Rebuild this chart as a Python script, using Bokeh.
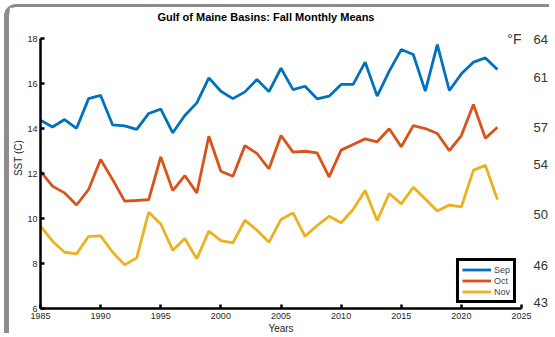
from bokeh.plotting import figure
from bokeh.models import Range1d, LinearAxis, FixedTicker, Legend, LegendItem, Label
from bokeh.embed import file_html
from bokeh.resources import INLINE

# ---- data ----
years = list(range(1985, 2024))
sep = [14.37, 14.07, 14.40, 14.01, 15.33, 15.47, 14.16, 14.12, 13.96, 14.67,
       14.86, 13.81, 14.58, 15.14, 16.25, 15.66, 15.33, 15.63, 16.18, 15.64,
       16.68, 15.73, 15.88, 15.32, 15.44, 15.96, 15.96, 16.95, 15.44, 16.55,
       17.51, 17.29, 15.66, 17.73, 15.69, 16.43, 16.95, 17.14, 16.62]
oct_ = [12.10, 11.44, 11.14, 10.60, 11.29, 12.62, 11.73, 10.77, 10.80, 10.84,
        12.74, 11.24, 11.91, 11.14, 13.66, 12.10, 11.88, 13.24, 12.89, 12.21,
        13.69, 12.95, 12.99, 12.92, 11.85, 13.04, 13.29, 13.54, 13.41, 13.99,
        13.19, 14.13, 14.00, 13.78, 13.02, 13.69, 15.07, 13.57, 14.06]
nov = [9.66, 8.99, 8.50, 8.43, 9.21, 9.23, 8.50, 7.94, 8.25, 10.28,
       9.76, 8.59, 9.11, 8.21, 9.44, 9.02, 8.92, 9.93, 9.48, 8.95,
       9.96, 10.25, 9.21, 9.69, 10.10, 9.81, 10.40, 11.24, 9.91, 11.11,
       10.65, 11.39, 10.87, 10.33, 10.60, 10.52, 12.15, 12.36, 10.84]
series_names = ["Sep", "Oct", "Nov"]
series_colors = ["#0072BD", "#D95319", "#EDB120"]
x_ticks = [1985, 1990, 1995, 2000, 2005, 2010, 2015, 2020, 2025]
c_ticks = [6, 8, 10, 12, 14, 16, 18]
f_ticks = [64, 61, 57, 54, 50, 46, 43]
title_text = "Gulf of Maine Basins: Fall Monthly Means"

FONT = "Liberation Sans"
X0, X1 = 1985, 2025
C0, C1 = 6, 18
C_TOP = 19.38           # headroom above the axes for the title
F_PER_C = 1.794         # right-hand °F scale as drawn in the reference
F_AT_C1 = 64.07

p = figure(width=545, height=329, output_backend="svg", toolbar_location=None,
           x_range=Range1d(X0, X1), y_range=Range1d(C0, C_TOP),
           min_border_left=31, min_border_right=33, min_border_top=0,
           min_border_bottom=26, background_fill_color="white",
           border_fill_color="white", outline_line_color=None)
p.styles = {"margin-left": "4px", "margin-top": "4px",
            "border-left": "5px solid #8c8c8c", "border-top": "3px solid #8c8c8c",
            "border-top-left-radius": "12px"}

p.xgrid.visible = False
p.ygrid.visible = False

for ax in (p.xaxis[0], p.yaxis[0]):
    ax.axis_line_width = 2.5
    ax.axis_line_color = "black"
    ax.major_tick_line_width = 2.5
    ax.major_tick_line_color = "black"
    ax.major_tick_in = 4
    ax.major_tick_out = 0
    ax.minor_tick_line_color = None
    ax.major_label_text_font = FONT
    ax.major_label_text_font_size = "9px"
    ax.major_label_text_color = "#262626"
    ax.axis_label_text_font = FONT
    ax.axis_label_text_font_size = "10px"
    ax.axis_label_text_font_style = "normal"
    ax.axis_label_text_color = "#262626"

p.xaxis[0].ticker = FixedTicker(ticks=x_ticks)
p.xaxis[0].axis_label = "Years"
p.xaxis[0].major_label_standoff = 4
p.xaxis[0].axis_label_standoff = 1
p.yaxis[0].ticker = FixedTicker(ticks=c_ticks)
p.yaxis[0].bounds = (C0, C1)
p.yaxis[0].axis_label = "SST (C)"
p.yaxis[0].major_label_standoff = 3
p.yaxis[0].axis_label_standoff = 0

f_lo = F_AT_C1 - F_PER_C * (C1 - C0)
f_hi = F_AT_C1 + F_PER_C * (C_TOP - C1)
p.extra_y_ranges = {"F": Range1d(f_lo, f_hi)}
fax = LinearAxis(y_range_name="F", ticker=FixedTicker(ticks=f_ticks),
                 axis_line_color=None, major_tick_line_color=None,
                 major_tick_in=0, major_tick_out=0,
                 minor_tick_line_color=None, major_label_standoff=12,
                 major_label_text_font=FONT, major_label_text_font_size="13px",
                 major_label_text_color="#333333")
p.add_layout(fax, "right")

# title and °F marker, drawn in the headroom above the 18 °C line
p.add_layout(Label(x=(X0 + X1) / 2, y=C_TOP, text=title_text, text_align="center",
                   text_baseline="top", x_offset=-15, y_offset=-3, text_font=FONT,
                   text_font_size="11px", text_font_style="bold", text_color="black"))
p.add_layout(Label(x=X1, y=C1, text="°F", text_align="right",
                   text_baseline="middle", x_offset=0, text_font=FONT,
                   text_font_size="14px", text_color="#333333"))

items = []
for name, vals, col in zip(series_names, [sep, oct_, nov], series_colors):
    r = p.line(years, vals, line_color=col, line_width=2.8)
    items.append(LegendItem(label=name, renderers=[r]))

legend = Legend(items=items, location="bottom_right", margin=5, padding=3,
                spacing=0, glyph_width=29, glyph_height=11, label_standoff=3,
                label_width=16, label_height=11, label_text_font=FONT,
                label_text_font_size="9px",
                border_line_color="black", border_line_width=3, border_line_alpha=1,
                background_fill_color="white", background_fill_alpha=1)
p.add_layout(legend)

open("out.html", "w").write(file_html(p, INLINE))
